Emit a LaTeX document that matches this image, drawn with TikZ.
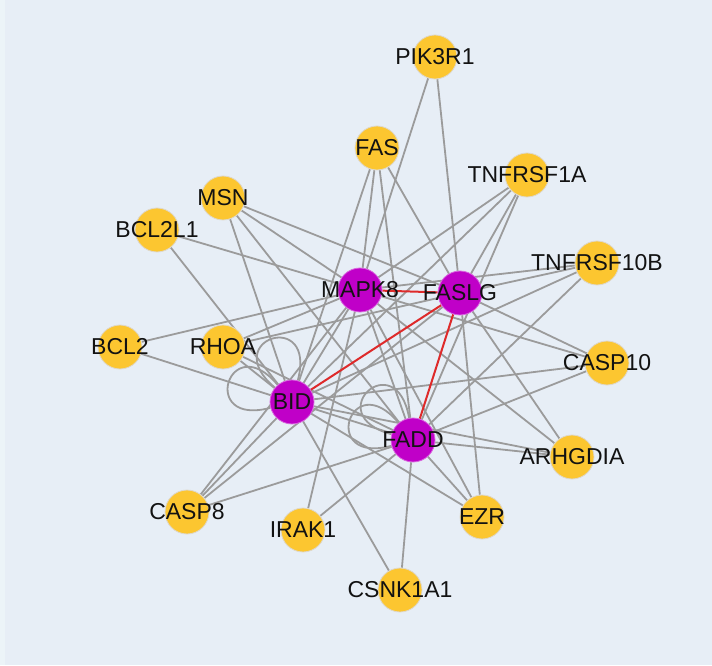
\documentclass[tikz,border=0pt]{standalone}
\usepackage{fontspec}
\setmainfont{Liberation Sans}
\usetikzlibrary{backgrounds}

\definecolor{canvas}{RGB}{231,238,246}
\definecolor{canvasstrip}{RGB}{236,244,248}
\definecolor{hubfill}{RGB}{192,0,200}
\definecolor{genefill}{RGB}{252,198,48}
\definecolor{ringgray}{RGB}{222,216,204}
\definecolor{edgegray}{RGB}{155,155,155}
\definecolor{edgered}{RGB}{222,42,42}
\definecolor{labelgray}{RGB}{18,18,18}

\tikzset{gene/.style={circle,fill=genefill,draw=ringgray,line width=0.8pt,minimum size=44pt,inner sep=0pt},
hub/.style={gene,fill=hubfill,draw=hubfill!60!white},
gene label/.style={font=\fontsize{23}{27}\selectfont,text=labelgray,inner sep=0pt},
edge/.style={draw=edgegray,line width=1.8pt},
core edge/.style={draw=edgered,line width=2pt}}

\begin{document}
\begin{tikzpicture}[x=1pt,y=1pt]
\useasboundingbox (0,0) rectangle (712,665);

%% Coordinates of nodes.
\coordinate (nPIK3R1) at (435,608);
\coordinate (nFAS) at (377,517);
\coordinate (nTNFRSF1A) at (527,490);
\coordinate (nMSN) at (223,467);
\coordinate (nBCL2L1) at (157,435);
\coordinate (nTNFRSF10B) at (597,402);
\coordinate (nMAPK8) at (360,375);
\coordinate (nFASLG) at (460,372);
\coordinate (nBCL2) at (120,318);
\coordinate (nRHOA) at (223,318);
\coordinate (nCASP10) at (607,302);
\coordinate (nBID) at (292,263);
\coordinate (nFADD) at (413,225);
\coordinate (nARHGDIA) at (572,208);
\coordinate (nCASP8) at (187,153);
\coordinate (nIRAK1) at (303,135);
\coordinate (nEZR) at (482,148);
\coordinate (nCSNK1A1) at (400,75);

%% gene nodes
\node [gene,label={[gene label]center:PIK3R1}] (PIK3R1) at (nPIK3R1) {};
\node [gene,label={[gene label]center:FAS}] (FAS) at (nFAS) {};
\node [gene,label={[gene label]center:TNFRSF1A}] (TNFRSF1A) at (nTNFRSF1A) {};
\node [gene,label={[gene label]center:MSN}] (MSN) at (nMSN) {};
\node [gene,label={[gene label]center:BCL2L1}] (BCL2L1) at (nBCL2L1) {};
\node [gene,label={[gene label]center:TNFRSF10B}] (TNFRSF10B) at (nTNFRSF10B) {};
\node [gene,label={[gene label]center:BCL2}] (BCL2) at (nBCL2) {};
\node [gene,label={[gene label]center:RHOA}] (RHOA) at (nRHOA) {};
\node [gene,label={[gene label]center:CASP10}] (CASP10) at (nCASP10) {};
\node [gene,label={[gene label]center:ARHGDIA}] (ARHGDIA) at (nARHGDIA) {};
\node [gene,label={[gene label]center:CASP8}] (CASP8) at (nCASP8) {};
\node [gene,label={[gene label]center:IRAK1}] (IRAK1) at (nIRAK1) {};
\node [gene,label={[gene label]center:EZR}] (EZR) at (nEZR) {};
\node [gene,label={[gene label]center:CSNK1A1}] (CSNK1A1) at (nCSNK1A1) {};

%% hub nodes
\node [hub,label={[gene label]center:MAPK8}] (MAPK8) at (nMAPK8) {};
\node [hub,label={[gene label]center:FASLG}] (FASLG) at (nFASLG) {};
\node [hub,label={[gene label]center:BID}] (BID) at (nBID) {};
\node [hub,label={[gene label]center:FADD}] (FADD) at (nFADD) {};

\begin{scope}[on background layer]
\fill [canvas] (0,0) rectangle (712,665);
\fill [canvasstrip] (0,0) rectangle (5,665);

%% edges between hubs
\draw [edge] (MAPK8) -- (BID);
\draw [edge] (MAPK8) -- (FADD);
\draw [edge] (BID) -- (FADD);

%% self loops
\draw [edge] (BID) to[out=75,in=140,looseness=8] (BID);
\draw [edge] (BID) to[out=130,in=195,looseness=8] (BID);
\draw [edge] (FADD) to[out=100,in=165,looseness=8] (FADD);
\draw [edge] (FADD) to[out=130,in=195,looseness=8] (FADD);

%% edges to the outer genes
\draw [edge] (PIK3R1) -- (MAPK8);
\draw [edge] (PIK3R1) -- (FASLG);
\draw [edge] (FAS) -- (BID);
\draw [edge] (FAS) -- (MAPK8);
\draw [edge] (FAS) -- (FADD);
\draw [edge] (FAS) -- (FASLG);
\draw [edge] (TNFRSF1A) -- (MAPK8);
\draw [edge] (TNFRSF1A) -- (BID);
\draw [edge] (TNFRSF1A) -- (FASLG);
\draw [edge] (TNFRSF1A) -- (FADD);
\draw [edge] (TNFRSF10B) -- (MAPK8);
\draw [edge] (TNFRSF10B) -- (FASLG);
\draw [edge] (TNFRSF10B) -- (FADD);
\draw [edge] (TNFRSF10B) -- (BID);
\draw [edge] (MSN) -- (FASLG);
\draw [edge] (MSN) -- (MAPK8);
\draw [edge] (MSN) -- (BID);
\draw [edge] (MSN) -- (FADD);
\draw [edge] (BCL2L1) -- (MAPK8);
\draw [edge] (BCL2L1) -- (BID);
\draw [edge] (BCL2) -- (MAPK8);
\draw [edge] (BCL2) -- (BID);
\draw [edge] (RHOA) -- (MAPK8);
\draw [edge] (RHOA) -- (FASLG);
\draw [edge] (RHOA) -- (BID);
\draw [edge] (RHOA) -- (FADD);
\draw [edge] (CASP10) -- (BID);
\draw [edge] (CASP10) -- (FADD);
\draw [edge] (CASP10) -- (FASLG);
\draw [edge] (CASP10) -- (MAPK8);
\draw [edge] (ARHGDIA) -- (FASLG);
\draw [edge] (ARHGDIA) -- (MAPK8);
\draw [edge] (ARHGDIA) -- (FADD);
\draw [edge] (ARHGDIA) -- (BID);
\draw [edge] (EZR) -- (FASLG);
\draw [edge] (EZR) -- (FADD);
\draw [edge] (EZR) -- (BID);
\draw [edge] (EZR) -- (MAPK8);
\draw [edge] (CSNK1A1) -- (FADD);
\draw [edge] (CSNK1A1) -- (BID);
\draw [edge] (IRAK1) -- (MAPK8);
\draw [edge] (IRAK1) -- (FADD);
\draw [edge] (CASP8) -- (BID);
\draw [edge] (CASP8) -- (MAPK8);
\draw [edge] (CASP8) -- (FASLG);
\draw [edge] (CASP8) -- (FADD);

%% red edges to FASLG
\draw [core edge] (MAPK8) -- (FASLG);
\draw [core edge] (BID) -- (FASLG);
\draw [core edge] (FADD) -- (FASLG);
\end{scope}

\end{tikzpicture}
\end{document}
